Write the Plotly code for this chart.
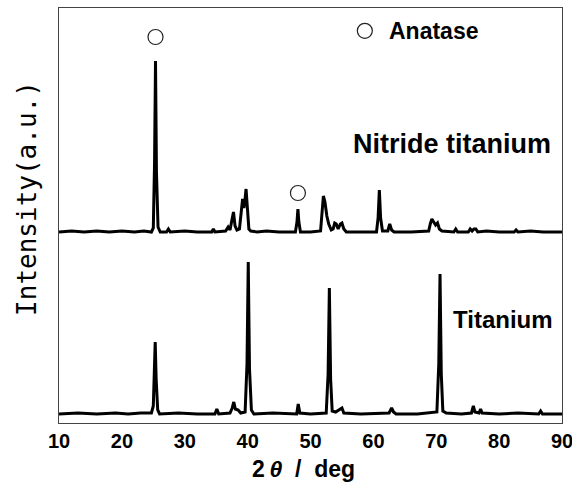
import plotly.graph_objects as go

# ---- data (2theta in deg, intensity in a.u. above each pattern's baseline) ----
nitride_x = [10.0, 12.0, 14.0, 16.0, 18.0, 20.0, 22.0, 23.5, 24.7, 25.0, 25.2, 25.35, 25.5, 25.75, 26.1,
             27.1, 27.4, 27.7, 30.0, 32.0, 34.3, 34.55, 34.8, 36.5, 36.9, 37.2, 37.5, 37.75, 38.0, 38.3,
             38.7, 39.0, 39.2, 39.4, 39.55, 39.75, 39.95, 40.2, 40.5, 41.5, 43.0, 45.0, 47.6, 47.85, 48.0,
             48.15, 48.4, 50.0, 51.6, 51.85, 52.05, 52.3, 52.6, 52.9, 53.3, 53.6, 53.85, 54.1, 54.4, 54.75,
             55.0, 55.3, 55.7, 58.0, 60.5, 60.75, 60.95, 61.15, 61.45, 62.3, 62.6, 62.9, 63.3, 66.0, 68.8,
             69.05, 69.3, 69.6, 69.9, 70.2, 70.5, 70.9, 72.8, 73.1, 73.4, 75.1, 75.4, 75.7, 76.0, 76.3,
             76.6, 78.0, 80.0, 82.4, 82.7, 83.0, 85.0, 87.0, 90.0]
nitride_y = [0, 1, 0, 1, 0, 1, 0, 1, 0, 4, 70, 171, 60, 5, 0,
             0, 3, 0, 1, 0, 0, 3, 0, 1, 5, 2, 12, 20, 6, 2,
             3, 22, 33, 24, 30, 43, 20, 3, 1, 0, 1, 0, 0, 10, 23,
             10, 0, 0, 1, 18, 36, 30, 16, 8, 2, 3, 9, 8, 3, 8,
             9, 3, 0, 0, 0, 14, 42, 14, 1, 1, 8, 2, 0, 0, 1,
             8, 13, 10, 7, 9, 3, 1, 0, 3, 0, 0, 3, 1, 3, 3,
             0, 1, 0, 0, 2, 0, 1, 0, 0]

titanium_x = [10.0, 13.0, 16.0, 19.0, 21.0, 23.0, 24.7, 25.0, 25.15, 25.3, 25.45, 25.7, 26.0, 29.0, 32.0,
              34.8, 35.1, 35.4, 37.2, 37.55, 37.8, 38.05, 38.5, 38.9, 39.6, 39.9, 40.1, 40.3, 40.6, 41.0,
              44.0, 47.8, 48.05, 48.3, 50.0, 52.5, 52.8, 53.0, 53.2, 53.45, 54.0, 54.7, 55.0, 55.3, 58.0,
              62.5, 62.9, 63.2, 63.6, 67.0, 70.1, 70.4, 70.6, 70.8, 71.05, 71.6, 74.0, 75.6, 75.9, 76.15,
              76.8, 77.05, 77.3, 80.0, 83.0, 86.3, 86.6, 86.9, 90.0]
titanium_y = [0, 1, 0, 1, 0, 1, 1, 8, 40, 72, 35, 4, 0, 1, 0,
              0, 5, 0, 1, 6, 12, 5, 4, 1, 2, 50, 152, 45, 4, 0,
              1, 0, 10, 1, 0, 1, 40, 126, 35, 3, 2, 5, 6, 1, 0,
              1, 6, 2, 0, 0, 2, 50, 140, 40, 3, 1, 0, 1, 8, 2,
              1, 5, 1, 0, 1, 0, 3, 0, 0]

nitride_offset = 182          # vertical stacking of the upper pattern
anatase_x = [25.35, 48.0]     # anatase reflections marked with circles
x_ticks = [10, 20, 30, 40, 50, 60, 70, 80, 90]

# ---- figure ----
fig = go.Figure()
fig.add_trace(go.Scatter(x=titanium_x, y=titanium_y, mode="lines",
                         line=dict(color="black", width=3), hoverinfo="skip"))
fig.add_trace(go.Scatter(x=nitride_x, y=[v + nitride_offset for v in nitride_y], mode="lines",
                         line=dict(color="black", width=3), hoverinfo="skip"))

# circles above anatase peaks
peak_h = {x: y for x, y in zip(nitride_x, nitride_y)}
circle_gap = [24, 16]
for ax_, gap in zip(anatase_x, circle_gap):
    yy = peak_h[ax_] + nitride_offset + gap
    fig.add_shape(type="circle", xref="x", yref="y", xsizemode="pixel", ysizemode="pixel",
                  xanchor=ax_, yanchor=yy, x0=-7.5, x1=7.5, y0=-7.5, y1=7.5,
                  line=dict(color="#222222", width=1.2))

# legend circle
fig.add_shape(type="circle", xref="paper", yref="paper", xsizemode="pixel", ysizemode="pixel",
              xanchor=0.608, yanchor=0.945, x0=-7.5, x1=7.5, y0=-7.5, y1=7.5,
              line=dict(color="#222222", width=1.2))

lbl_font = "Liberation Sans, Arial, sans-serif"
fig.add_annotation(text="Anatase", xref="paper", yref="paper", x=0.652, y=0.945,
                   xanchor="left", yanchor="middle", showarrow=False,
                   font=dict(family=lbl_font, size=23, color="black", weight="bold"))
fig.add_annotation(text="Nitride titanium", xref="paper", yref="paper", x=0.982, y=0.672,
                   xanchor="right", yanchor="middle", showarrow=False,
                   font=dict(family=lbl_font, size=27, color="black", weight="bold"))
fig.add_annotation(text="Titanium", xref="paper", yref="paper", x=0.986, y=0.2506,
                   xanchor="right", yanchor="middle", showarrow=False,
                   font=dict(family=lbl_font, size=24, color="black", weight="bold"))

# axis titles
fig.add_annotation(text="Intensity(a.u.)", xref="paper", yref="paper", x=-0.0636, y=0.54,
                   xanchor="center", yanchor="middle", textangle=-90, showarrow=False,
                   font=dict(family="DejaVu Sans Mono, monospace", size=26, color="black"))
fig.add_annotation(text="2\u2009<i>θ</i>\u00a0\u00a0/\u00a0\u00a0deg", xref="paper", yref="paper",
                   x=0.487, y=-0.11, xanchor="center", yanchor="middle", showarrow=False,
                   font=dict(family="Liberation Sans, Arial, sans-serif",
                             size=23, color="black", weight="bold"))

fig.update_layout(
    width=572, height=483,
    margin=dict(l=59, r=10, t=8, b=60, autoexpand=False),
    paper_bgcolor="white", plot_bgcolor="white",
    showlegend=False,
    xaxis=dict(range=[10, 90], tickvals=x_ticks, ticktext=[str(t) for t in x_ticks],
               showgrid=False, zeroline=False, ticks="", ticklabeloverflow="allow",
               automargin=False,
               showline=True, mirror=True, linecolor="#444444", linewidth=1,
               tickfont=dict(family="Liberation Sans, Arial, sans-serif",
                             size=20, color="black", weight="bold")),
    yaxis=dict(range=[-9, 406], showticklabels=False, showgrid=False, zeroline=False, ticks="",
               automargin=False,
               showline=True, mirror=True, linecolor="#444444", linewidth=1),
)

fig.write_html("out.html")
